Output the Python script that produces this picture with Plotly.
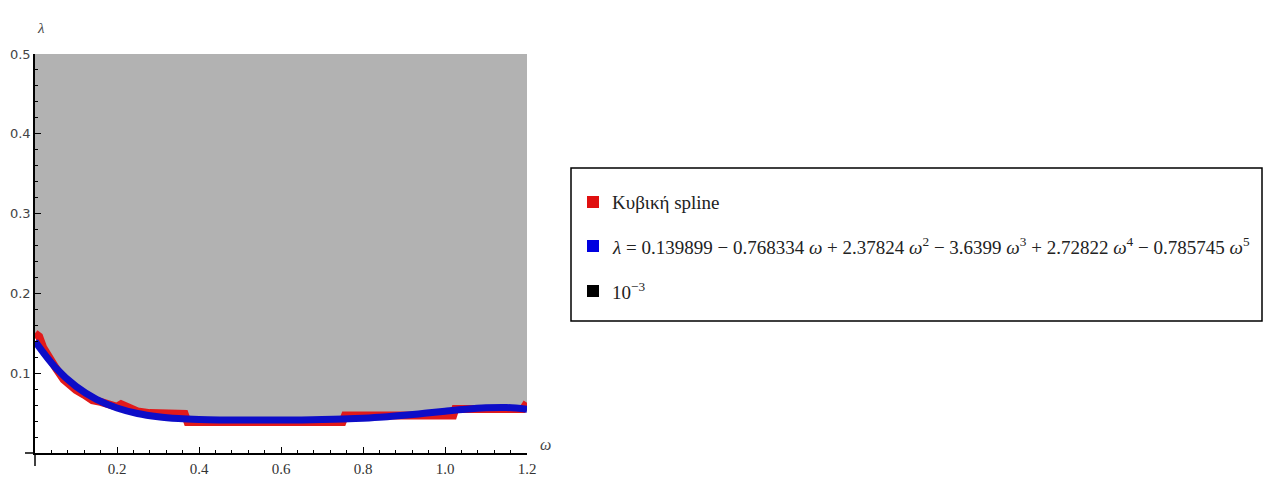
import plotly.graph_objects as go

# Cubic spline samples (ω, λ)
spline_w = [0.0, 0.01, 0.02, 0.035, 0.05, 0.07, 0.085, 0.10, 0.12, 0.14, 0.16, 0.18,
            0.20, 0.21, 0.23, 0.25, 0.28, 0.32, 0.365, 0.372, 0.55, 0.75, 0.756,
            0.90, 1.02, 1.025, 1.12, 1.19, 1.2]
spline_l = [0.150, 0.146, 0.132, 0.118, 0.107, 0.092, 0.084, 0.079, 0.073, 0.066, 0.064,
            0.062, 0.058, 0.061, 0.056, 0.052, 0.050, 0.049, 0.049, 0.039, 0.039, 0.039,
            0.047, 0.047, 0.047, 0.055, 0.055, 0.055, 0.063]

# Polynomial fit sampled on a regular ω grid
fit_w = [0.0, 0.05, 0.10, 0.15, 0.20, 0.25, 0.30, 0.35, 0.40, 0.45, 0.50, 0.55, 0.60,
         0.65, 0.70, 0.75, 0.80, 0.85, 0.90, 0.95, 1.00, 1.05, 1.10, 1.15, 1.20]
fit_l = [0.1399, 0.1070, 0.0835, 0.0672, 0.0564, 0.0495, 0.0454, 0.0431, 0.0419, 0.0414,
         0.0413, 0.0412, 0.0413, 0.0415, 0.0419, 0.0426, 0.0437, 0.0452, 0.0473, 0.0497,
         0.0524, 0.0549, 0.0566, 0.0570, 0.0549]
fit_coef = ["0.139899", "0.768334", "2.37824", "3.6399", "2.72822", "0.785745"]
fit_sign = ["", "−", "+", "−", "+", "−"]

x_ticks = [0.2, 0.4, 0.6, 0.8, 1.0, 1.2]
y_ticks = [0.1, 0.2, 0.3, 0.4, 0.5]
legend_labels = ["Κυβική spline", None, "10<sup>−3</sup>"]
legend_colors = ["#e01010", "#0000e0", "#000000"]

W, H = 1273, 480
L, R, T, B = 35, 746, 54, 27
PW, PH = W - L - R, H - T - B


def px(x):
    return (x - L) / PW


def py(y):
    return (H - B - y) / PH


GRAY = "#b2b2b2"
RED = "#e21a1a"
BLUE = "#0d0dc8"

fig = go.Figure()

# admissible region above the spline up to λ = 0.5
fig.add_trace(go.Scatter(
    x=spline_w + [1.2, 0.0], y=spline_l + [0.5, 0.5],
    fill="toself", fillcolor=GRAY, mode="none", hoverinfo="skip", showlegend=False))

fig.add_trace(go.Scatter(
    x=spline_w, y=spline_l, mode="lines",
    line=dict(color=RED, width=8), showlegend=False))

fig.add_trace(go.Scatter(
    x=fit_w, y=fit_l, mode="lines", line_shape="spline",
    line=dict(color=BLUE, width=7), showlegend=False))

fig.update_xaxes(
    range=[0, 1.2], showgrid=False, zeroline=False, showline=True, automargin=False,
    linecolor="black", linewidth=1.5, tickvals=x_ticks,
    ticktext=[f"{v:.1f}" for v in x_ticks],
    ticks="inside", ticklen=6, tickcolor="black", tickwidth=1.2,
    ticklabelstandoff=1,
    minor=dict(dtick=0.04, tick0=0, ticks="inside", ticklen=3,
               tickcolor="black", tickwidth=1.2),
    tickfont=dict(family="Liberation Serif", size=15, color="#333333"))
fig.update_yaxes(
    range=[0, 0.5], showgrid=False, zeroline=False, showline=True, automargin=False,
    linecolor="black", linewidth=1.5, tickvals=y_ticks,
    ticktext=[f"{v:.1f}" for v in y_ticks],
    ticks="inside", ticklen=6, tickcolor="black", tickwidth=1.2,
    minor=dict(dtick=0.02, tick0=0, ticks="inside", ticklen=3,
               tickcolor="black", tickwidth=1.2),
    tickfont=dict(family="DejaVu Sans", size=13, color="#444444"))

# short axis overhangs past the origin
fig.add_shape(type="line", xref="paper", yref="paper", x0=px(25), x1=px(35),
              y0=py(453), y1=py(453), line=dict(color="black", width=1.5))
fig.add_shape(type="line", xref="paper", yref="paper", x0=px(35), x1=px(35),
              y0=py(453), y1=py(466), line=dict(color="black", width=1.5))

# axis labels
fig.add_annotation(x=px(35), y=py(18), xref="paper", yref="paper", text="<i>λ</i>",
                   showarrow=False, font=dict(family="Liberation Serif", size=15, color="#444"))
fig.add_annotation(x=px(553), y=py(455), xref="paper", yref="paper", text="<i>ω</i>",
                   showarrow=False, font=dict(family="Liberation Serif", size=16, color="#444"))

# legend frame
fig.add_shape(type="rect", xref="paper", yref="paper",
              x0=px(571), x1=px(1262), y0=py(168), y1=py(321),
              line=dict(color="black", width=1.5), fillcolor="white", layer="above")

poly = "<i>λ</i> = " + fit_coef[0]
for k in range(1, len(fit_coef)):
    term = f" {fit_sign[k]} {fit_coef[k]} <i>ω</i>"
    if k > 1:
        term += f"<sup>{k}</sup>"
    poly += term
legend_labels[1] = poly

entry_y = [202, 246, 291]
for lab, col, yy in zip(legend_labels, legend_colors, entry_y):
    fig.add_shape(type="rect", xref="paper", yref="paper",
                  x0=px(587), x1=px(599), y0=py(yy - 6), y1=py(yy + 6),
                  line=dict(width=0), fillcolor=col, layer="above")
    fig.add_annotation(x=px(610), y=py(yy), xref="paper", yref="paper", text=lab,
                       xanchor="left", yanchor="middle", showarrow=False,
                       font=dict(family="Liberation Serif", size=19, color="#222"))

fig.update_layout(
    width=W, height=H, margin=dict(l=L, r=R, t=T, b=B),
    paper_bgcolor="white", plot_bgcolor="white")

fig.write_html("out.html")
